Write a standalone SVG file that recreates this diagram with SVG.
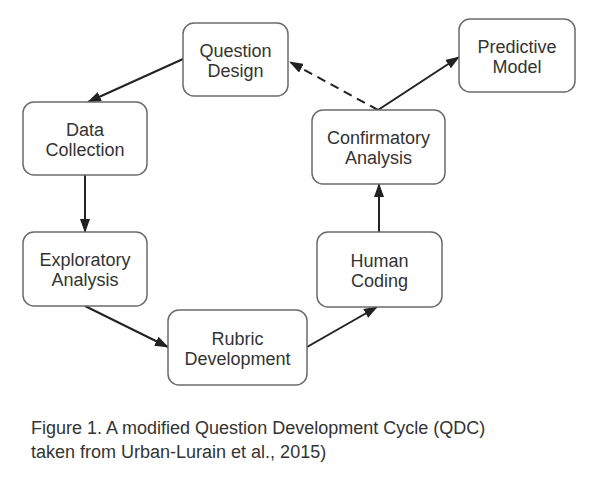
<svg xmlns="http://www.w3.org/2000/svg" width="603" height="478" viewBox="0 0 603 478">
<style>
.box{fill:#fff;stroke:#6b6b6b;stroke-width:1.5}
.t{font-family:"Liberation Sans",Arial,sans-serif;font-size:18px;fill:#333;text-anchor:middle}
.cap{font-family:"Liberation Sans",Arial,sans-serif;font-size:18px;fill:#333}
.c{stroke:#222;stroke-width:2;fill:none}
.d{stroke-dasharray:9,6}
</style>
<defs>
<marker id="ah" markerUnits="userSpaceOnUse" markerWidth="14" markerHeight="10" refX="13" refY="5" orient="auto">
<path d="M0,0 L14,5 L0,10 Z" fill="#222"/>
</marker>
</defs>
<rect width="603" height="478" fill="#fff"/>
<g id="connectors">
<line class="c" x1="183" y1="59" x2="88" y2="102" marker-end="url(#ah)"/>
<line class="c" x1="85" y1="175" x2="85" y2="232" marker-end="url(#ah)"/>
<line class="c" x1="85" y1="306" x2="168" y2="347" marker-end="url(#ah)"/>
<line class="c" x1="307" y1="347" x2="377" y2="307" marker-end="url(#ah)"/>
<line class="c" x1="379" y1="232" x2="379" y2="184" marker-end="url(#ah)"/>
<line class="c" x1="378" y1="110" x2="459" y2="57" marker-end="url(#ah)"/>
<line class="c d" x1="378" y1="110" x2="290" y2="62" marker-end="url(#ah)"/>
</g>
<g id="question-design">
<rect class="box" x="183" y="23" width="105" height="73" rx="11"/>
<text class="t" x="235.5" y="56.5">Question</text>
<text class="t" x="235.5" y="76.5">Design</text>
</g>
<g id="data-collection">
<rect class="box" x="23" y="102" width="124" height="73" rx="11"/>
<text class="t" x="85" y="135.5">Data</text>
<text class="t" x="85" y="155.5">Collection</text>
</g>
<g id="exploratory-analysis">
<rect class="box" x="23" y="232" width="124" height="74" rx="11"/>
<text class="t" x="85" y="266">Exploratory</text>
<text class="t" x="85" y="286">Analysis</text>
</g>
<g id="rubric-development">
<rect class="box" x="168" y="310" width="139" height="75" rx="11"/>
<text class="t" x="237.5" y="344.5">Rubric</text>
<text class="t" x="237.5" y="364.5">Development</text>
</g>
<g id="human-coding">
<rect class="box" x="317" y="232" width="125" height="75" rx="11"/>
<text class="t" x="379.5" y="266.5">Human</text>
<text class="t" x="379.5" y="286.5">Coding</text>
</g>
<g id="confirmatory-analysis">
<rect class="box" x="312" y="110" width="133" height="74" rx="11"/>
<text class="t" x="378.5" y="144">Confirmatory</text>
<text class="t" x="378.5" y="164">Analysis</text>
</g>
<g id="predictive-model">
<rect class="box" x="459" y="19" width="116" height="73" rx="11"/>
<text class="t" x="517" y="52.5">Predictive</text>
<text class="t" x="517" y="72.5">Model</text>
</g>
<g id="caption">
<text class="cap" x="31" y="434">Figure 1. A modified Question Development Cycle (QDC)</text>
<text class="cap" x="31" y="458">taken from Urban-Lurain et al., 2015)</text>
</g>
</svg>
